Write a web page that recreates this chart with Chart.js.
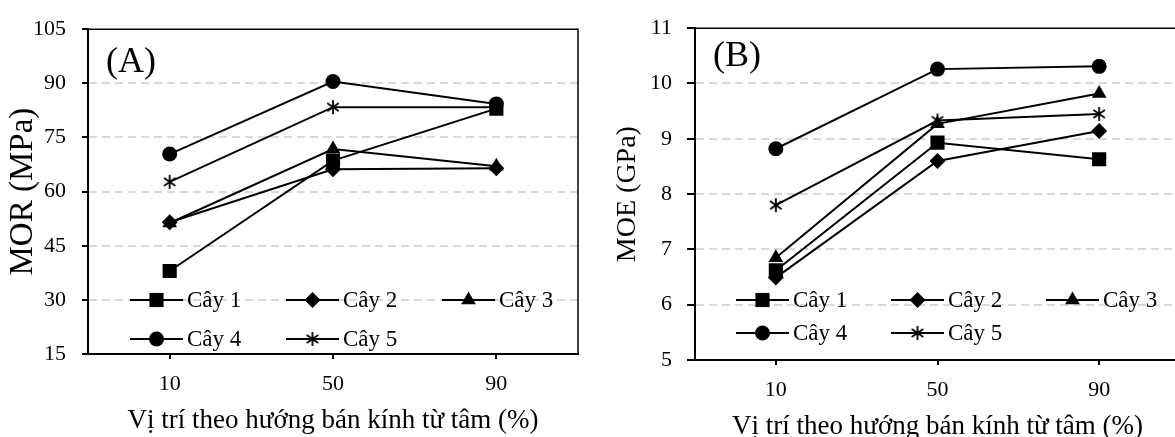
<!DOCTYPE html>
<html>
<head>
<meta charset="utf-8">
<script src="https://cdn.jsdelivr.net/npm/chart.js@4.4.1/dist/chart.umd.min.js"></script>
<style>
  html, body { margin: 0; padding: 0; background: #fff; overflow: hidden; }
  #wrap { position: relative; width: 1175px; height: 437px; overflow: hidden; }
  #boxA { position: absolute; left: 0; top: 0; }
  #boxB { position: absolute; left: 590px; top: 0; }
</style>
</head>
<body>
<div id="wrap">
  <canvas id="boxA" width="590" height="437"></canvas>
  <canvas id="boxB" width="600" height="450"></canvas>
</div>
<script>
// ===== DATA =====
const positions = ["10", "50", "90"];
const seriesNames = ["Cây 1", "Cây 2", "Cây 3", "Cây 4", "Cây 5"];

const morTicks = [15, 30, 45, 60, 75, 90, 105];
const morCay1 = [38.0, 68.6, 83.0];
const morCay2 = [51.5, 66.2, 66.5];
const morCay3 = [51.3, 71.8, 67.0];
const morCay4 = [70.4, 90.5, 84.3];
const morCay5 = [62.7, 83.4, 83.4];

const moeTicks = [5, 6, 7, 8, 9, 10, 11];
const moeCay1 = [6.62, 8.93, 8.63];
const moeCay2 = [6.49, 8.60, 9.14];
const moeCay3 = [6.85, 9.27, 9.82];
const moeCay4 = [8.82, 10.26, 10.31];
const moeCay5 = [7.80, 9.33, 9.45];

const FONT = "'Liberation Serif', 'Times New Roman', serif";

// ===== MARKERS =====
function makeAsterisk(size) {
  const c = document.createElement("canvas");
  c.width = size;
  c.height = size;
  const g = c.getContext("2d");
  const m = size / 2, r = size / 2 - 1;
  const a = 35 * Math.PI / 180;
  g.strokeStyle = "#000";
  g.lineWidth = 1.8;
  g.beginPath();
  g.moveTo(m, m - r); g.lineTo(m, m + r);
  g.moveTo(m - r * Math.cos(a), m - r * Math.sin(a)); g.lineTo(m + r * Math.cos(a), m + r * Math.sin(a));
  g.moveTo(m - r * Math.cos(a), m + r * Math.sin(a)); g.lineTo(m + r * Math.cos(a), m - r * Math.sin(a));
  g.stroke();
  return c;
}
const markerStyles = ["rect", "rectRot", "triangle", "circle", makeAsterisk(16)];
const markerSizes = [10, 8, 8.5, 7.5, 8];

function buildDatasets(series) {
  return series.map((values, i) => ({
    label: seriesNames[i],
    data: values,
    borderColor: "#000",
    backgroundColor: "#000",
    borderWidth: 2,
    pointStyle: markerStyles[i],
    pointRadius: markerSizes[i],
    pointHoverRadius: markerSizes[i],
    pointBackgroundColor: "#000",
    pointBorderColor: "#000",
    pointBorderWidth: 0,
    tension: 0,
    fill: false,
  }));
}

// ===== PLUGINS =====
const frameBox = {
  id: "frameBox",
  beforeDatasetsDraw(chart) {
    const { ctx, chartArea: a } = chart;
    ctx.save();
    ctx.strokeStyle = "#000";
    ctx.lineWidth = 1.5;
    ctx.beginPath();
    ctx.moveTo(a.left, a.top);
    ctx.lineTo(a.right, a.top);
    ctx.lineTo(a.right, a.bottom);
    ctx.stroke();
    ctx.restore();
  },
};

const innerLegend = {
  id: "innerLegend",
  afterDatasetsDraw(chart, args, opts) {
    const { ctx, chartArea } = chart;
    ctx.save();
    ctx.font = opts.font;
    ctx.textBaseline = "middle";
    chart.data.datasets.forEach((ds, i) => {
      const x = chartArea.left + opts.x + (i % 3) * opts.colWidth;
      const y = opts.rows[Math.floor(i / 3)];
      ctx.strokeStyle = "#000";
      ctx.fillStyle = "#000";
      ctx.lineWidth = 2;
      ctx.beginPath();
      ctx.moveTo(x, y);
      ctx.lineTo(x + opts.lineLength, y);
      ctx.stroke();
      Chart.helpers.drawPoint(ctx, { pointStyle: ds.pointStyle, radius: ds.pointRadius, rotation: 0, borderWidth: 0 }, x + opts.lineLength / 2, y);
      ctx.fillStyle = "#000";
      ctx.fillText(ds.label, x + opts.lineLength + 4, y + 1);
    });
    ctx.restore();
  },
};

const panelLabel = {
  id: "panelLabel",
  afterDraw(chart, args, opts) {
    const { ctx, chartArea } = chart;
    ctx.save();
    ctx.font = "36px " + FONT;
    ctx.fillStyle = "#000";
    ctx.textBaseline = "middle";
    ctx.fillText(opts.text, chartArea.left + 18, opts.y);
    ctx.restore();
  },
};

function gridColor(ticks) {
  return (c) => (c.tick && (c.tick.value === ticks[0] || c.tick.value === ticks[ticks.length - 1]) ? "rgba(0,0,0,0)" : "#d9d9d9");
}

function makeOptions(o) {
  return {
    responsive: false,
    animation: false,
    events: [],
    layout: { padding: { top: 23, right: o.padRight, bottom: 0, left: 0 } },
    plugins: {
      legend: { display: false },
      tooltip: { enabled: false },
      innerLegend: o.legend,
      panelLabel: o.panel,
    },
    scales: {
      x: {
        type: "category",
        offset: true,
        grid: { drawOnChartArea: false, drawTicks: true, tickLength: 5, color: "#000", lineWidth: 2 },
        border: { color: "#000", width: 2 },
        ticks: { color: "#000", font: { family: FONT, size: 22 }, padding: 12, maxRotation: 0 },
        title: { display: true, text: "Vị trí theo hướng bán kính từ tâm (%)", color: "#000", font: { family: FONT, size: 27 }, padding: { top: 0, bottom: o.xTitlePad } },
        afterFit(s) { s.height = o.xHeight; },
      },
      y: {
        min: o.ticks[0],
        max: o.ticks[o.ticks.length - 1],
        ticks: { stepSize: o.ticks[1] - o.ticks[0], color: "#000", font: { family: FONT, size: 22 }, padding: o.yTickPad },
        grid: {
          color: gridColor(o.ticks),
          lineWidth: 2,
          tickColor: "#000",
          tickWidth: 2,
          tickLength: o.yTickLen,
          tickBorderDash: [],
        },
        border: { color: "#000", width: 2, dash: [8, 5] },
        title: { display: true, text: o.yTitle, color: "#000", font: { family: FONT, size: o.yTitleSize }, padding: { top: o.yTitlePad, bottom: 0 } },
        afterFit(s) { s.width = o.yWidth; },
      },
    },
  };
}

// ===== CHARTS =====
new Chart(document.getElementById("boxA"), {
  type: "line",
  data: { labels: positions, datasets: buildDatasets([morCay1, morCay2, morCay3, morCay4, morCay5]) },
  options: makeOptions({
    ticks: morTicks, yTitle: "MOR (MPa)", yTitleSize: 33, padRight: 12, xHeight: 83, yWidth: 88,
    yTickPad: 16, yTickLen: 6, yTitlePad: 4, xTitlePad: 0,
    legend: { font: "23px " + FONT, x: 42, colWidth: 156, lineLength: 53, rows: [300, 339] },
    panel: { text: "(A)", y: 63 },
  }),
  plugins: [frameBox, innerLegend, panelLabel],
});

new Chart(document.getElementById("boxB"), {
  type: "line",
  data: { labels: positions, datasets: buildDatasets([moeCay1, moeCay2, moeCay3, moeCay4, moeCay5]) },
  options: makeOptions({
    ticks: moeTicks, yTitle: "MOE (GPa)", yTitleSize: 28, padRight: 7, xHeight: 90, yWidth: 105,
    yTickPad: 15, yTickLen: 8, yTitlePad: 21, xTitlePad: 7,
    legend: { font: "23px " + FONT, x: 41, colWidth: 155, lineLength: 53, rows: [300, 333] },
    panel: { text: "(B)", y: 57 },
  }),
  plugins: [frameBox, innerLegend, panelLabel],
});
</script>
</body>
</html>
